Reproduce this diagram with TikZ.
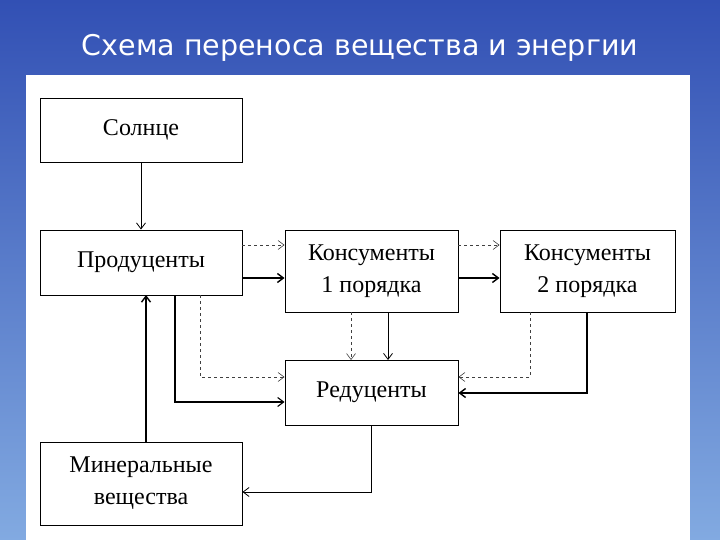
\documentclass[tikz,border=0pt]{standalone}
\usepackage{fontspec}
\setmainfont{Liberation Serif}
\newfontfamily\titlefont{DejaVu Sans}
\usetikzlibrary{arrows.meta}
\definecolor{skytop}{RGB}{50,80,180}
\definecolor{skybot}{RGB}{130,170,225}
\begin{document}
\begin{tikzpicture}[x=1pt,y=-1pt,
 box/.style={draw,line width=0.9pt,fill=white,align=center,font=\fontsize{24}{32}\selectfont,inner sep=0},
 ar/.style={-{Straight Barb[length=6pt,width=9pt]},line width=0.8pt},
 sar/.style={ar,line width=1.4pt},
 dar/.style={ar,dashed,line width=0.6pt,black!75}]
\useasboundingbox (0,0) rectangle (720,540);
\shade[top color=skytop, bottom color=skybot] (0,0) rectangle (720,540);
\fill[white] (26,75) rectangle (690,540);
\node[text=white,font=\titlefont\fontsize{28.5}{32}\selectfont] (title) at (360,48) {Схема переноса вещества и энергии};
\node[box,minimum width=202pt,minimum height=64pt] (sun) at (141,130) {Солнце};
\node[box,minimum width=202pt,minimum height=65pt] (prod) at (141,262.5) {Продуценты};
\node[box,minimum width=173pt,minimum height=82pt] (k1) at (371.5,271) {Консументы\\1 порядка};
\node[box,minimum width=175pt,minimum height=82pt] (k2) at (587.5,271) {Консументы\\2 порядка};
\node[box,minimum width=173pt,minimum height=65pt] (red) at (371.5,392.5) {Редуценты};
\node[box,minimum width=202pt,minimum height=83pt] (min) at (141,483.5) {Минеральные\\вещества};
\draw[ar] (sun.south) -- (prod.north);
\draw[dar] (prod.east|-0,245) -- (k1.west|-0,245);
\draw[sar] (prod.east|-0,278) -- (k1.west|-0,278);
\draw[dar] (k1.east|-0,245) -- (k2.west|-0,245);
\draw[sar] (k1.east|-0,278) -- (k2.west|-0,278);
\draw[dar] (351,312) -- (351,360);
\draw[ar] (388,312) -- (388,360);
\draw[dar] (200,295) |- (red.west|-0,377);
\draw[ar,line width=1.1pt] (175,295) |- (red.west|-0,402);
\draw[dar] (530,312) |- (red.east|-0,377);
\draw[ar,line width=1.4pt] (587,312) |- (red.east|-0,393);
\draw[ar] (371,425) |- (min.east|-0,492);
\draw[sar] (146,442) -- (146,295);
\end{tikzpicture}
\end{document}
